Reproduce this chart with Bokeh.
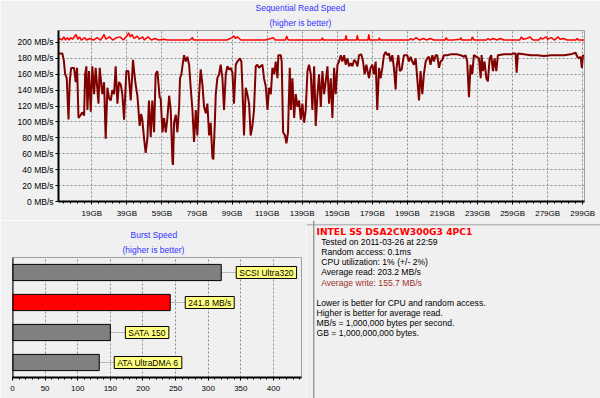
from bokeh.plotting import figure
from bokeh.models import Range1d, FixedTicker, Label, Span, FactorRange, Title
from bokeh.layouts import column, row
from bokeh.embed import file_html
from bokeh.resources import INLINE
from bokeh.core.properties import value

FONT = "Liberation Sans"
BG = "#f0f0f0"
BLUE = "#3333ff"

# ---------------- data ----------------
write_gb = [0, 2.2, 3.0, 3.8, 4.7, 5.7, 6.4, 7.2, 8.9, 9.8, 10.6, 11.4, 12.7, 13.6, 14.6, 15.2, 15.9, 16.5,
            17.4, 18.4, 19.3, 20.3, 21.2, 22.2, 22.8, 23.5, 24.3, 25.0, 26.0, 26.9, 27.9, 28.8, 29.8, 30.7,
            31.7, 32.6, 33.6, 34.5, 35.5, 36.4, 37.4, 38.7, 39.9, 41.2, 42.5, 43.3, 44.0, 45.0, 46.3, 47.1,
            47.8, 48.8, 49.7, 50.7, 51.6, 52.6, 53.5, 54.5, 55.4, 56.4, 57.7,
            58.3, 59.3, 60.2, 61.2, 62.1, 63.1, 64.0, 65.0, 65.3, 65.9, 66.9, 67.8, 68.8, 69.3, 70.1, 70.8,
            71.6, 72.6, 73.5, 74.5, 75.4, 76.4, 77.3, 78.3, 79.2, 80.2, 81.1, 82.1, 83.0, 84.0, 84.9, 85.9,
            86.8, 87.8, 88.3, 89.1, 89.7, 90.6, 91.6, 92.5, 93.5, 94.4, 95.4, 96.3, 97.3, 98.2, 99.2, 100.1,
            101.1, 102.0, 103.5, 104.3, 104.9, 105.8, 106.8, 107.7, 108.7, 109.6, 110.6, 111.5, 112.5, 113.4,
            114.4, 115.3, 116.3, 117.2,
            118.2, 119.2, 120.1, 121.1, 122.0, 123.0, 123.9, 124.9, 125.4, 126.8, 127.3, 128.1, 129.2, 130.0,
            130.9, 131.9, 132.6, 133.4, 134.4, 135.3, 136.3, 137.2, 138.2, 139.1, 140.1, 141.0, 142.0, 142.9,
            143.9, 144.8, 145.8, 146.7, 147.7, 148.6, 149.6, 150.5, 151.5, 152.4, 153.4, 154.3, 155.3, 156.2,
            157.2, 158.1, 159.1, 160.0, 161.0, 161.9, 162.9, 163.8, 164.8, 165.7, 166.7, 167.6, 168.6, 169.5,
            170.5, 171.4, 172.7, 173.7, 174.6, 175.6, 177.1, 178.0,
            179.0, 179.9, 180.9, 181.8, 182.8, 183.7, 184.7, 185.6, 186.6, 187.5, 188.5, 189.4, 190.4, 191.3,
            192.3, 192.8, 193.8, 194.7, 195.7, 197.0, 198.9, 199.9, 200.8, 201.8, 202.7, 203.7, 204.6, 205.6,
            206.5, 207.5, 208.4, 209.4, 210.3, 211.3, 212.2, 213.2, 214.1, 215.1, 216.0, 217.0, 217.9, 218.9,
            219.8, 221.7, 223.6, 225.5, 227.4, 229.3, 231.2, 232.2, 233.1, 234.1, 235.0, 236.0, 236.9,
            239.8, 240.8, 241.3, 242.1, 243.0, 244.0, 244.9, 245.9, 246.8, 247.8, 248.7, 249.7, 250.6, 254.1,
            257.9, 259.8, 260.7, 261.3, 262.0, 265.5, 269.3, 273.0, 276.9, 280.7, 284.5, 288.3, 292.1, 294.9,
            295.9, 296.8, 297.8, 298.5, 299.1, 299.7]
write_mbs = [186, 186, 178, 160, 155, 103, 150, 168, 168, 150, 168, 105, 109, 112, 108, 160, 170, 115,
             164, 113, 170, 135, 168, 140, 123, 168, 150, 135, 150, 79, 143, 130, 127, 140,
             135, 170, 123, 150, 147, 135, 103, 164, 164, 127, 178, 160, 147, 133, 95, 110,
             103, 79, 61, 79, 127, 81, 127, 87, 160, 164, 131,
             129, 87, 105, 87, 105, 133, 115, 50, 46, 99, 109, 87, 119, 155, 160, 172,
             184, 176, 182, 172, 143, 115, 75, 115, 83, 135, 166, 147, 119, 111, 123, 83,
             99, 55, 53, 95, 135, 155, 160, 172, 155, 115, 160, 170, 166, 168, 162, 123,
             172, 176, 180, 176, 143, 83, 143, 135, 123, 83, 95, 115, 170, 172,
             168, 170, 172, 155,
             145, 115, 143, 135, 168, 160, 176, 155, 184, 184, 176, 87, 83, 73,
             87, 168, 115, 155, 105, 135, 119, 127, 103, 123, 99, 115, 164, 172,
             160, 115, 170, 95, 135, 160, 119, 164, 135, 151, 170, 123, 155, 105,
             168, 135, 172, 176, 184, 176, 184, 172, 180, 170, 174, 170, 178, 176,
             170, 184, 185, 176, 160, 172, 155, 168,
             172, 160, 176, 115, 168, 155, 168, 184, 188, 184, 186, 176, 184, 168,
             141, 168, 184, 164, 166, 184, 184, 176, 182, 176, 172, 180, 155, 127,
             164, 135, 160, 176, 180, 182, 172, 184, 176, 184, 184, 168, 176, 178,
             184, 184, 185, 185, 185, 184, 182, 184, 176, 131, 172, 160, 184,
             180, 155, 184, 164, 176, 155, 151, 180, 184, 164, 180, 164, 184, 185,
             185, 186, 186, 162, 186, 185, 184, 184, 183, 184, 184, 184, 185, 187,
             182, 180, 182, 168, 184, 182]

read_gb = [0, 1, 2, 3, 4, 5, 6, 7, 8, 10, 11, 12, 13, 15, 16, 18, 20, 22, 24, 26, 27, 29, 31, 33, 35, 37,
           39, 40, 41, 42, 43, 45, 46, 48, 49, 51, 53, 55, 57, 60, 62, 66, 70, 75, 76.4, 77, 84, 90, 96,
           99, 100, 101, 102, 104, 110, 118, 122.5, 123.5, 129.5, 130.1, 131, 140, 150, 150.5, 151, 163.5,
           164, 164.5, 170, 170.4, 171, 176.5, 177, 177.5, 182.5, 183, 183.5, 200, 201, 202, 204, 206, 208,
           210, 212, 214, 220.5, 221, 222, 225, 229, 229.5, 230, 235.5, 236, 237, 244, 245, 246, 248, 250,
           252, 254, 263, 264, 265, 267, 269, 270, 271, 274, 275, 276, 278, 279, 281, 283, 285, 286, 288,
           290, 295, 295.8, 296.5, 300]
read_mbs = [203, 205, 203, 207, 203, 206, 203, 206, 204, 210, 204, 207, 203, 206, 203, 205, 203, 206, 203,
            210, 204, 207, 203, 206, 207, 203, 208, 212, 207, 210, 205, 208, 204, 207, 203, 207, 203, 205,
            203, 204, 203, 203, 203, 203, 206, 203, 203, 203, 203, 206, 208, 205, 207, 203, 203, 203, 206,
            203, 203, 208, 203, 203, 203, 206, 203, 203, 209, 203, 203, 209, 203, 203, 210, 203, 203, 206,
            203, 203, 205, 203, 206, 203, 205, 203, 205, 203, 203, 206, 203, 203, 204, 206, 203, 203, 207,
            203, 203, 205, 203, 205, 203, 205, 203, 203, 207, 204, 205, 207, 204, 203, 203, 206, 204, 207,
            204, 206, 203, 207, 204, 205, 203, 203, 205, 203, 203]

x_ticks = [19, 39, 59, 79, 99, 119, 139, 159, 179, 199, 219, 239, 259, 279, 299]
x_tick_labels = ["19GB", "39GB", "59GB", "79GB", "99GB", "119GB", "139GB", "159GB", "179GB",
                 "199GB", "219GB", "239GB", "259GB", "279GB", "299GB"]
y_ticks = [0, 20, 40, 60, 80, 100, 120, 140, 160, 180, 200]
y_tick_labels = ["0 MB/s", "20 MB/s", "40 MB/s", "60 MB/s", "80 MB/s", "100 MB/s", "120 MB/s",
                 "140 MB/s", "160 MB/s", "180 MB/s", "200 MB/s"]

burst_names = ["SCSI Ultra320", "INTEL SS DSA2CW300G3 4PC1", "SATA 150", "ATA UltraDMA 6"]
burst_values = [320, 241.8, 150, 133]
burst_labels = ["SCSI Ultra320", "241.8 MB/s", "SATA 150", "ATA UltraDMA 6"]
burst_colors = ["#808080", "#ff0000", "#808080", "#808080"]
burst_ticks = [0, 50, 100, 150, 200, 250, 300, 350, 400]

info_title = "INTEL SS DSA2CW300G3 4PC1"
info_lines = ["Tested on 2011-03-26 at 22:59", "Random access: 0.1ms", "CPU utilization: 1% (+/- 2%)",
              "Average read: 203.2 MB/s", "Average write: 155.7 MB/s"]
info_colors = ["#000000", "#000000", "#000000", "#000000", "#a03030"]
notes = ["Lower is better for CPU and random access.", "Higher is better for average read.",
         "MB/s = 1,000,000 bytes per second.", "GB = 1,000,000,000 bytes."]


def add_titles(fig, main, sub, main_off, sub_off):
    # inner (closest to the frame) first, outer afterwards
    fig.add_layout(Title(text=sub, align="left", offset=sub_off, standoff=6, text_font=FONT,
                         text_font_size="8.5px", text_font_style="normal", text_color=BLUE), "above")
    fig.add_layout(Title(text=main, align="left", offset=main_off, standoff=0, text_font=FONT,
                         text_font_size="8.5px", text_font_style="normal", text_color=BLUE), "above")


def style_axis(ax, size):
    ax.axis_line_color = "black"
    ax.axis_line_width = 2
    ax.major_tick_line_color = "black"
    ax.minor_tick_line_color = "black"
    ax.major_tick_in = 0
    ax.minor_tick_in = 0
    ax.major_tick_out = 3
    ax.minor_tick_out = 2
    ax.major_label_text_font = FONT
    ax.major_label_text_font_size = size
    ax.major_label_text_color = "black"


# ---------------- top chart ----------------
p = figure(width=600, height=220, x_range=Range1d(0, 300), y_range=Range1d(0, 215),
           output_backend="svg", toolbar_location=None,
           min_border_left=58, min_border_right=16, min_border_top=26, min_border_bottom=17,
           background_fill_color=BG, border_fill_color=BG)
p.outline_line_color = "#a0a0a0"
p.xgrid.ticker = FixedTicker(ticks=x_ticks)
p.ygrid.ticker = FixedTicker(ticks=y_ticks)
for g in (p.xgrid, p.ygrid):
    g.grid_line_color = "#8c8c8c"
    g.grid_line_dash = "2 2"
    g.grid_line_width = 1
p.line(write_gb, write_mbs, line_color="#800000", line_width=2)
p.line(read_gb, read_mbs, line_color="#ff0000", line_width=1.5)

p.xaxis.ticker = FixedTicker(ticks=x_ticks, minor_ticks=list(range(3, 300, 4)))
p.xaxis.major_label_overrides = {t: l for t, l in zip(x_ticks, x_tick_labels)}
p.yaxis.ticker = FixedTicker(ticks=y_ticks)
p.yaxis.major_label_overrides = {t: l for t, l in zip(y_ticks, y_tick_labels)}
style_axis(p.xaxis[0], "8px")
style_axis(p.yaxis[0], "8.5px")
p.xaxis.major_label_standoff = 4
p.yaxis.major_label_standoff = 2
p.yaxis.minor_tick_line_color = None
add_titles(p, "Sequential Read Speed", "(higher is better)", 197, 211)

# ---------------- burst chart ----------------
factors = list(reversed(burst_names))
b = figure(width=306, height=178, x_range=Range1d(0, 443), y_range=FactorRange(factors=factors),
           output_backend="svg", toolbar_location=None,
           min_border_left=12, min_border_right=5, min_border_top=37, min_border_bottom=21,
           background_fill_color=BG, border_fill_color=BG)
b.outline_line_color = "#a0a0a0"
b.yaxis.visible = False
b.ygrid.visible = False
b.xgrid.ticker = FixedTicker(ticks=burst_ticks)
b.xgrid.grid_line_color = "#8c8c8c"
b.xgrid.grid_line_dash = "2 2"
b.xaxis.ticker = FixedTicker(ticks=burst_ticks, minor_ticks=list(range(0, 443, 10)))
style_axis(b.xaxis[0], "8px")
b.xaxis.major_label_standoff = 5

gap = 23
b.segment(x0=burst_values, y0=burst_names, x1=[v + gap for v in burst_values], y1=burst_names,
          line_color="#b8b8b8", line_width=1)
b.hbar(y=burst_names, right=burst_values, left=0, height=0.54, fill_color=burst_colors,
       line_color="black", line_width=1)
b.add_layout(Span(location=0, dimension="height", line_color="black", line_width=2))

n = len(burst_names)
for i, (v, lab) in enumerate(zip(burst_values, burst_labels)):
    b.add_layout(Label(x=v, y=n - 1 - i + 0.5, text=lab, x_offset=15, text_align="left",
                       text_baseline="middle", text_font=FONT, text_font_size="8.5px",
                       text_color="black", background_fill_color="#ffff80",
                       border_line_color="black", border_line_width=1, padding=(3, 1)))
add_titles(b, "Burst Speed", "(higher is better)", 118, 110)

# ---------------- info panel ----------------
t = figure(width=294, height=178, x_range=Range1d(0, 294), y_range=Range1d(178, 0),
           output_backend="svg", toolbar_location=None, x_axis_location=None, y_axis_location=None,
           min_border=0, background_fill_color=BG, border_fill_color=BG)
t.outline_line_color = None
t.grid.visible = False
t.add_layout(Span(location=7.3, dimension="height", line_color="#707070", line_width=1))
t.add_layout(Span(location=4.3, dimension="width", line_color="#a0a0a0", line_width=1))
t.text(x=[10], y=[11], text=[info_title], text_font=value("DejaVu Sans"), text_font_size="9.2px",
       text_font_style="bold", text_color="#ff0000", text_baseline="middle")
t.text(x=[14.7] * len(info_lines), y=[21 + 10.3 * k for k in range(len(info_lines))], text=info_lines,
       text_font=value(FONT), text_font_size="8.6px", text_color=info_colors, text_baseline="middle")
t.text(x=[10] * len(notes), y=[82.7 + 10 * k for k in range(len(notes))], text=notes,
       text_font=value(FONT), text_font_size="8.6px", text_color="black", text_baseline="middle")

layout = column(p, row(b, column(t, spacing=0), spacing=0), spacing=0)
open("out.html", "w").write(file_html(layout, INLINE))
